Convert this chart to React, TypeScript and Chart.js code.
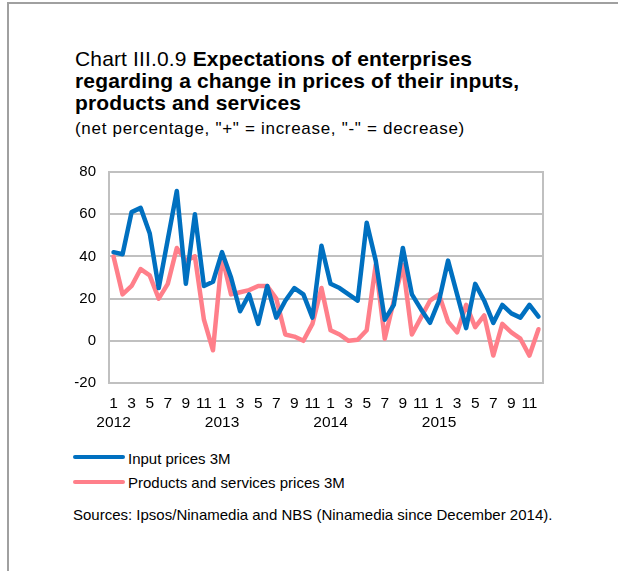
import React, { useEffect, useRef } from "react";
import { Chart, registerables } from "chart.js";

Chart.register(...registerables);

const months = [
  "1","2","3","4","5","6","7","8","9","10","11","12",
  "1","2","3","4","5","6","7","8","9","10","11","12",
  "1","2","3","4","5","6","7","8","9","10","11","12",
  "1","2","3","4","5","6","7","8","9","10","11","12",
];
const years = ["2012", "2013", "2014", "2015"];

const inputPrices = [
  42, 41, 61, 63, 51, 25, 48, 71, 27, 60, 26, 28,
  42, 30, 14, 22, 8, 26, 11, 19, 25, 22, 11, 45,
  27, 25, 22, 19, 56, 38, 10, 17, 44, 22, 15, 8.5,
  19, 38, 22, 6, 27, 19, 8.5, 17, 13, 11, 17, 11.5,
];
const productPrices = [
  40, 22, 26, 34, 31, 20, 27, 44, 38, 40, 10, -4.5,
  40, 22, 23, 24, 26, 26, 20, 3, 2, 0, 8, 25,
  5, 3, 0, 0.5, 5, 36, 1, 19, 36, 3, 11, 19,
  22, 9, 4, 17, 6.5, 12, -7, 8, 4, 1, -7, 5.5,
];

const yMin = -20;
const yMax = 80;
const yStep = 20;

const BLUE = "#0070c0";
const PINK = "#ff7f8a";
const GRID = "#c0c0c0";
const FONT = "'Liberation Sans', Arial, sans-serif";

const frame = {
  id: "frame",
  beforeDatasetsDraw(chart: any) {
    const { ctx, chartArea } = chart;
    ctx.save();
    ctx.strokeStyle = GRID;
    ctx.lineWidth = 2;
    ctx.strokeRect(chartArea.left, chartArea.top, chartArea.right - chartArea.left, chartArea.bottom - chartArea.top);
    ctx.restore();
  },
};

function ChartView() {
  const ref = useRef<HTMLCanvasElement | null>(null);
  useEffect(() => {
    if (!ref.current) return;
    const chart = new Chart(ref.current, {
      type: "line",
      data: {
        labels: months,
        datasets: [
          {
            label: "Input prices 3M",
            data: inputPrices,
            borderColor: BLUE,
            backgroundColor: BLUE,
            borderWidth: 4.5,
            pointRadius: 0,
            tension: 0,
            borderJoinStyle: "round",
            borderCapStyle: "round",
          },
          {
            label: "Products and services prices 3M",
            data: productPrices,
            borderColor: PINK,
            backgroundColor: PINK,
            borderWidth: 4.5,
            pointRadius: 0,
            tension: 0,
            borderJoinStyle: "round",
            borderCapStyle: "round",
          },
        ],
      },
      options: {
        animation: false,
        responsive: false,
        maintainAspectRatio: false,
        layout: { padding: { top: 18, right: 75, left: 0, bottom: 0 } },
        plugins: { legend: { display: false }, tooltip: { enabled: false } },
        scales: {
          x: {
            type: "category",
            offset: true,
            grid: { display: false, drawTicks: false },
            border: { display: false },
            afterFit: (s: any) => { s.height = 57; },
            ticks: {
              autoSkip: false,
              maxRotation: 0,
              minRotation: 0,
              padding: 11,
              color: "#000",
              font: { family: FONT, size: 15.5, lineHeight: "19px" },
              callback: (_v: any, i: number) => {
                if (i % 2 !== 0) return "";
                if (i % 12 === 0) return [months[i], years[i / 12]];
                return months[i];
              },
            },
          },
          y: {
            min: yMin,
            max: yMax,
            grid: { color: GRID, lineWidth: 2, drawTicks: false },
            border: { display: false },
            afterFit: (s: any) => { s.width = 109; },
            ticks: {
              stepSize: yStep,
              padding: 13,
              color: "#000",
              font: { family: FONT, size: 15 },
            },
          },
        },
      },
      plugins: [frame],
    });
    return () => chart.destroy();
  }, []);
  return (
    <canvas
      ref={ref}
      width={618}
      height={290}
      style={{ position: "absolute", left: 0, top: 150, width: 618, height: 290 }}
    />
  );
}

export default function App() {
  const text: React.CSSProperties = { position: "absolute", fontFamily: FONT, color: "#000", whiteSpace: "nowrap", margin: 0 };
  return (
    <div>
      <div style={{ position: "absolute", left: 7, top: 2, width: 800, height: 800, borderLeft: "2px solid #a0a0a0", borderTop: "2px solid #a0a0a0" }} />
      <div style={{ ...text, left: 75, top: 48, fontSize: 21, lineHeight: "22px", letterSpacing: "0.15px" }}>
        Chart III.0.9 <b>Expectations of enterprises</b>
        <br />
        <b>regarding a change in prices of their inputs,</b>
        <br />
        <b>products and services</b>
      </div>
      <div style={{ ...text, left: 75, top: 119, fontSize: 17, lineHeight: "19px", letterSpacing: "0.7px" }}>
        (net percentage, "+" = increase, "-" = decrease)
      </div>
      <ChartView />
      <div style={{ position: "absolute", left: 73, top: 455, width: 52, height: 4, background: BLUE, borderRadius: 2 }} />
      <div style={{ ...text, left: 128, top: 449, fontSize: 15, lineHeight: "19px" }}>Input prices 3M</div>
      <div style={{ position: "absolute", left: 73, top: 480, width: 52, height: 4, background: PINK, borderRadius: 2 }} />
      <div style={{ ...text, left: 128, top: 473, fontSize: 15, lineHeight: "19px" }}>Products and services prices 3M</div>
      <div style={{ ...text, left: 73, top: 505, fontSize: 15, lineHeight: "19px" }}>
        Sources: Ipsos/Ninamedia and NBS (Ninamedia since December 2014).
      </div>
    </div>
  );
}
